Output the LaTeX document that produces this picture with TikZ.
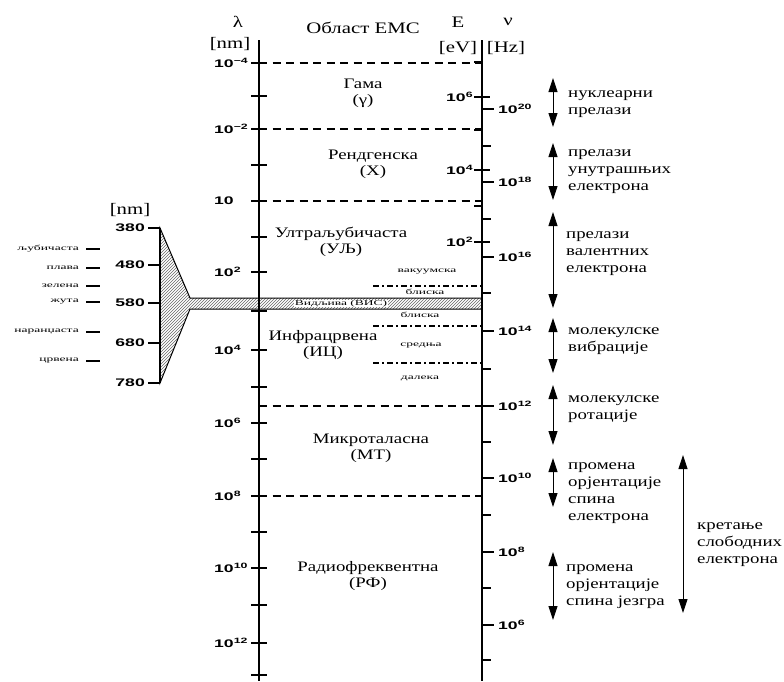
\documentclass[tikz,border=0pt]{standalone}
\usepackage{fontspec}
\setmainfont[FakeStretch=1.3]{Liberation Serif}
\newfontfamily\smallserif[FakeStretch=1.8]{Liberation Serif}
\newfontfamily\numsans[FakeStretch=1.6]{Liberation Sans}
\usetikzlibrary{arrows.meta, patterns, positioning, calc}
\newcommand{\tenp}[1]{10\textsuperscript{#1}}

\begin{document}
\begin{tikzpicture}[x=1pt, y=-1pt,
    axisline/.style={line width=2.2pt},
    tickmark/.style={line width=1.6pt},
    border/.style={line width=1.5pt, dash pattern=on 8pt off 5.5pt},
    subborder/.style={line width=1.3pt, dash pattern=on 6pt off 3pt on 2pt off 3pt},
    region/.style={font=\fontsize{14.5}{16}\selectfont, align=center, inner sep=1pt},
    subregion/.style={font=\smallserif\fontsize{7.5}{8}\selectfont, inner sep=1pt},
    hue/.style={font=\smallserif\fontsize{7.5}{8}\selectfont, anchor=east, inner sep=1pt},
    num/.style={font=\numsans\bfseries\fontsize{11}{12}\selectfont, inner sep=1pt},
    head/.style={font=\fontsize{16}{18}\selectfont, inner sep=1pt},
    trans/.style={font=\fontsize{14.5}{17}\selectfont, align=left, anchor=west, inner sep=0pt},
    twoway/.style={line width=0.9pt, {Triangle[width=9pt,length=14pt]}-{Triangle[width=9pt,length=14pt]}}
]
    \useasboundingbox (0,0) rectangle (784,681);

    % visible window and its funnel
    \draw[line width=1pt, pattern=north east lines, pattern color=black!60]
        (160,228) -- (190,298) -- (482,298) -- (482,309) -- (190,309) -- (160,383) -- cycle;
    \draw[tickmark] (160,228) -- (160,383);
    \foreach \y/\t [count=\i] in {228/380, 265/480, 303/580, 343/680, 383/780} {
        \draw[tickmark] (148,\y) -- (160,\y);
        \node[num, anchor=east] (vis\i) at (146,\y) {\t};
    }
    \node[head] (visunit) at (130,210) {[nm]};
    \foreach \y/\t [count=\i] in {249/љубичаста, 268/плава, 286/зелена, 302/жута, 332/наранџаста, 361/црвена} {
        \node[hue] (hue\i) at (80,\y) {\t};
        \draw[line width=1.2pt] (86,\y) -- (100,\y);
    }

    % axes
    \draw[axisline] (259,40) -- (259,681);
    \draw[axisline] (482,40) -- (482,681);
    \foreach \y in {63,96,129,165,201,237,272,311,350,387,423,459,496,532,568,605,643,675}
        \draw[tickmark] (251,\y) -- (267,\y);
    \foreach \y/\t [count=\i] in {63/\tenp{−4}, 129/\tenp{−2}, 201/10, 272/\tenp{2}, 350/\tenp{4}, 423/\tenp{6}, 496/\tenp{8}, 568/\tenp{10}, 643/\tenp{12}}
        \node[num, anchor=west] (lam\i) at (213,\y) {\t};

    \foreach \y in {109,182,257,331,406,478,552,625}
        \draw[tickmark] (482,\y) -- (494,\y);
    \foreach \y in {146,219,293,369,442,515,588,660}
        \draw[tickmark] (482,\y) -- (491,\y);
    \foreach \y in {97,170,242}
        \draw[tickmark] (474,\y) -- (490,\y);
    \foreach \y in {62,130,206}
        \draw[tickmark] (474,\y) -- (482,\y);
    \foreach \y/\t [count=\i] in {97/\tenp{6}, 170/\tenp{4}, 242/\tenp{2}}
        \node[num, anchor=west] (en\i) at (445,\y) {\t};
    \foreach \y/\t [count=\i] in {109/\tenp{20}, 182/\tenp{18}, 257/\tenp{16}, 331/\tenp{14}, 406/\tenp{12}, 478/\tenp{10}, 552/\tenp{8}, 625/\tenp{6}}
        \node[num, anchor=west] (nu\i) at (497,\y) {\t};

    % headings
    \node[head] (lam) at (238,22) {λ};
    \node[head] (lamunit) at (230,44) {[nm]};
    \node[head] (title) at (363,28) {Област ЕМС};
    \node[head] (en) at (458,22) {E};
    \node[head] (enunit) at (458,48) {[eV]};
    \node[head] (nu) at (508,22) {ν};
    \node[head] (nuunit) at (506,48) {[Hz]};

    % regions
    \foreach \y in {63,129,201,406,496}
        \draw[border] (259,\y) -- (482,\y);
    \foreach \y in {286,326,363}
        \draw[subborder] (373,\y) -- (482,\y);
    \node[subregion, fill=white, inner ysep=0.3pt] (visible) at (341,303.5) {Видљива (ВИС)};
    \node[region] (gama) at (363,93) {Гама\\(γ)};
    \node[region] (xray) at (373,164) {Рендгенска\\(X)};
    \node[region] (uv) at (341,242) {Ултраљубичаста\\(УЉ)};
    \node[region] (ir) at (323,345) {Инфрацрвена\\(ИЦ)};
    \node[region] (mw) at (371,448) {Микроталасна\\(МТ)};
    \node[region] (rf) at (368,576) {Радиофреквентна\\(РФ)};
    \node[subregion] (vacuv) at (427,272) {вакуумска};
    \node[subregion] (nearuv) at (425,292) {блиска};
    \node[subregion] (nearir) at (420,315) {блиска};
    \node[subregion] (midir) at (421,346) {средња};
    \node[subregion] (farir) at (420,378) {далека};

    % transitions
    \foreach \n/\a/\b in {1/78/127, 2/143/200, 3/212/308, 4/318/373, 5/385/445, 6/458/507, 7/552/620} {
        \coordinate (up\n) at (553,\a);
        \coordinate (dn\n) at (553,\b);
        \draw[twoway] (up\n) -- (dn\n);
    }
    \coordinate (upfree) at (683,455);
    \coordinate (dnfree) at (683,613);
    \draw[twoway] (upfree) -- (dnfree);

    \node[trans] (nuclear) at (568,104) {нуклеарни\\прелази};
    \node[trans] (inner) at (568,172) {прелази\\унутрашњих\\електрона};
    \node[trans] (valence) at (566,254) {прелази\\валентних\\електрона};
    \node[trans] (vibr) at (568,341) {молекулске\\вибрације};
    \node[trans] (rot) at (568,409) {молекулске\\ротације};
    \node[trans] (espin) at (568,493) {промена\\орјентације\\спина\\електрона};
    \node[trans] (nspin) at (566,587) {промена\\орјентације\\спина језгра};
    \node[trans] (free) at (697,545) {кретање\\слободних\\електрона};
\end{tikzpicture}
\end{document}
